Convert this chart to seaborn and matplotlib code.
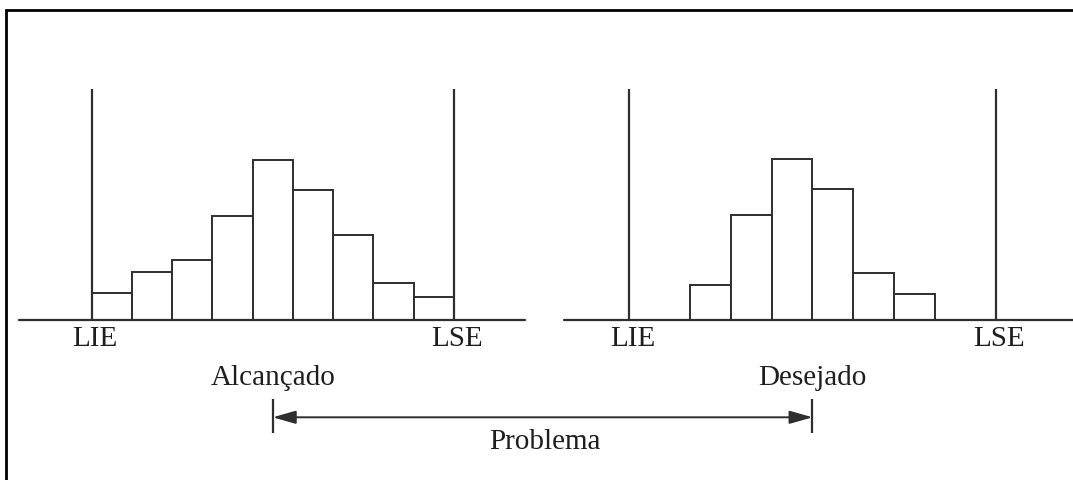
import numpy as np
import pandas as pd
import matplotlib.pyplot as plt
import seaborn as sns

# limites de especificação e classes (largura 1) dos dois histogramas
LIE, LSE = 0, 9
limit_height = 231

alcancado_edges = np.arange(0, 10)        # 9 classes entre LIE e LSE
alcancado_counts = [27, 48, 60, 104, 160, 130, 85, 37, 23]

desejado_edges = np.arange(1.5, 8.0)      # 6 classes centradas
desejado_counts = [35, 105, 161, 131, 47, 26]

df_a = pd.DataFrame({'x': alcancado_edges[:-1] + 0.5, 'n': alcancado_counts})
df_d = pd.DataFrame({'x': desejado_edges[:-1] + 0.5, 'n': desejado_counts})

sns.set_style('white')
plt.rcParams['font.family'] = ['Liberation Serif', 'DejaVu Serif']

line_c = '#2e2e2e'
text_c = '#1e1e1e'
fs = 21
W, H = 1073, 481

fig = plt.figure(figsize=(W / 100, H / 100), dpi=100)
fig.patch.set_facecolor('white')

# eixos em pixels para a moldura
ax_bg = fig.add_axes([0, 0, 1, 1])
ax_bg.set_xlim(0, W)
ax_bg.set_ylim(H, 0)
ax_bg.set_axis_off()
ax_bg.plot([6, 6, W], [H, 11, 11], color='black', lw=2, solid_joinstyle='miter')

base_px = 320.7
panel_h = 240.7
bottom = (H - base_px) / H
height = panel_h / H

ax1 = fig.add_axes([19 / W, bottom, (525 - 19) / W, height])
ax2 = fig.add_axes([563.8 / W, bottom, (W - 563.8) / W, height])

panels = [
    (ax1, df_a, alcancado_edges, (-1.81, 10.77), 'Alcançado'),
    (ax2, df_d, desejado_edges, (-1.61, 10.9), 'Desejado'),
]

for ax, d, edges, xl, name in panels:
    sns.histplot(data=d, x='x', weights='n', bins=[float(e) for e in edges], ax=ax,
                 color='white', edgecolor=line_c, linewidth=1.4, alpha=1)
    ax.set_xlim(*xl)
    ax.set_ylim(0, panel_h)
    ax.set_axis_off()
    ax.axhline(0, color=line_c, lw=1.6, clip_on=False)
    ax.vlines([LIE, LSE], 0, limit_height, color=line_c, lw=1.6, zorder=3)
    for val, lab in [(LIE, 'LIE'), (LSE, 'LSE')]:
        ax.annotate(lab, xy=(val, 0), xytext=(3, -25), textcoords='offset pixels',
                    ha='center', va='baseline', fontsize=fs, color=text_c,
                    annotation_clip=False)
    mid = (edges[0] + edges[-1]) / 2
    ax.text(mid, -64.8, name, ha='center', va='baseline', fontsize=fs,
            color=text_c, clip_on=False)
    ax.vlines(mid, -113, -79, color=line_c, lw=1.6, clip_on=False)

# seta "Problema" entre os centros dos dois histogramas
mid_a = (alcancado_edges[0] + alcancado_edges[-1]) / 2
mid_d = (desejado_edges[0] + desejado_edges[-1]) / 2
ax2.annotate('', xy=(mid_d, -97.6), xycoords='data',
             xytext=(mid_a, -97.6), textcoords=ax1.transData,
             arrowprops=dict(arrowstyle='<|-|>,head_length=0.7,head_width=0.2',
                             mutation_scale=20, color=line_c, lw=1.4,
                             shrinkA=0, shrinkB=0),
             annotation_clip=False)
ax_bg.text(544.5, 449.3, 'Problema', ha='center', va='baseline', fontsize=fs,
           color=text_c)

fig.savefig('out.png', dpi=100)
